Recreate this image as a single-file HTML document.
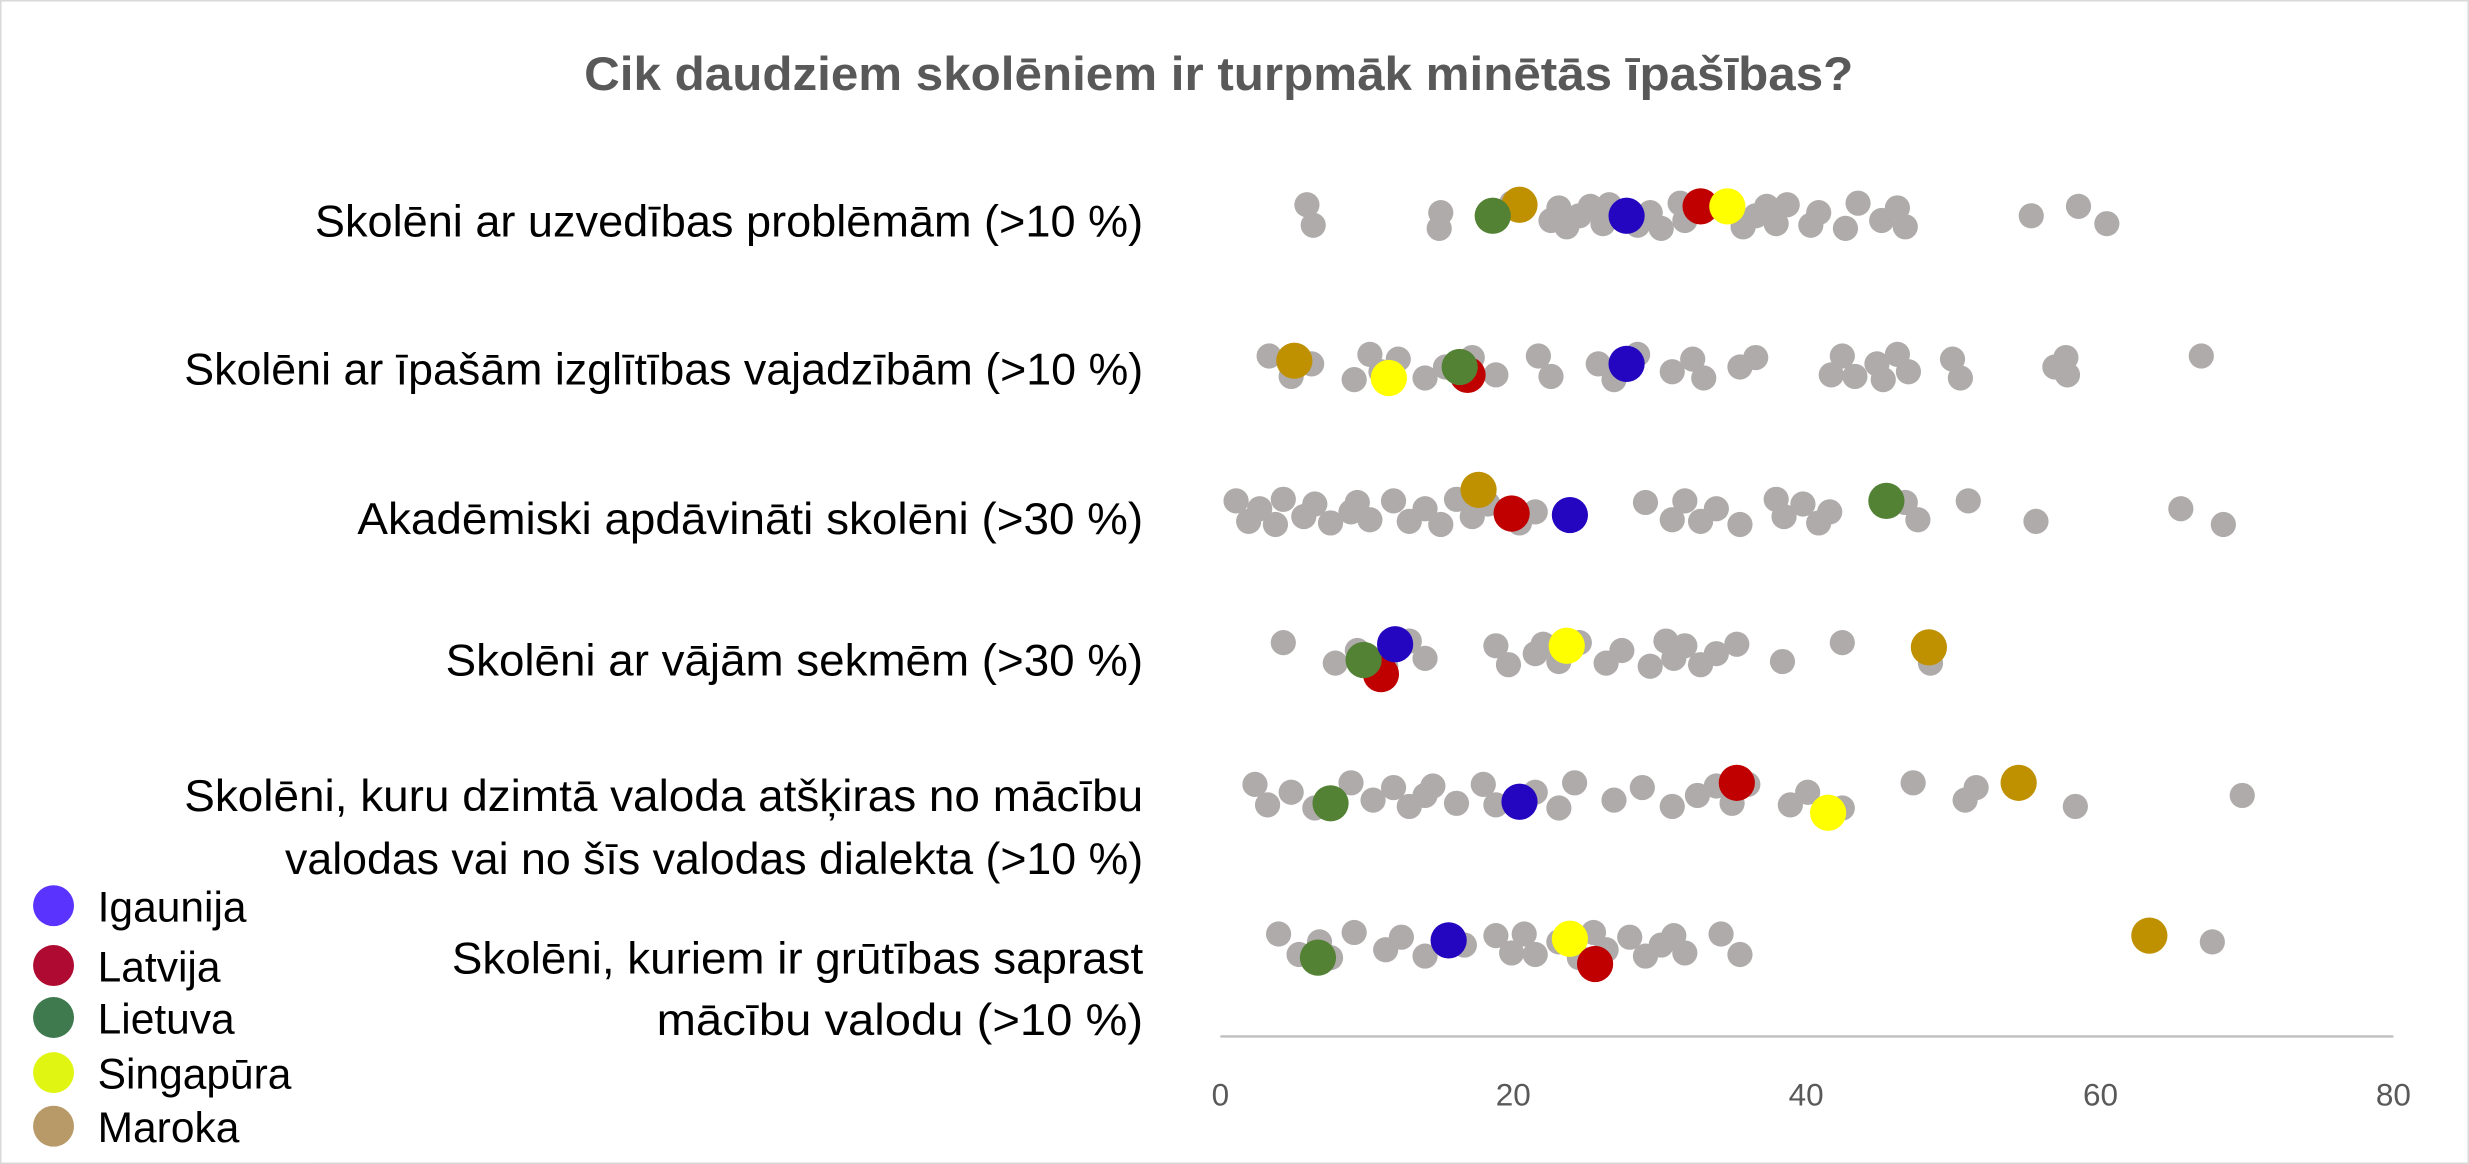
<!DOCTYPE html>
<html><head><meta charset="utf-8"><style>
html,body{margin:0;padding:0;background:#fff;}
svg{display:block;}
text{font-family:"Liberation Sans",sans-serif;}
</style></head><body>
<svg id="s" width="2469" height="1164" viewBox="0 0 1568 739" preserveAspectRatio="none" xmlns="http://www.w3.org/2000/svg">
<rect x="0.5" y="0.5" width="1567" height="738" fill="#fff" stroke="#d9d9d9" stroke-width="1"/>
<text x="774" y="57" text-anchor="middle" font-size="30" font-weight="bold" fill="#595959" textLength="806" lengthAdjust="spacingAndGlyphs">Cik daudziem skolēniem ir turpmāk minētās īpašības?</text>
<g font-size="28" fill="#000" text-anchor="end" lengthAdjust="spacingAndGlyphs">
<text x="726" y="150" textLength="526" lengthAdjust="spacingAndGlyphs">Skolēni ar uzvedības problēmām (&gt;10 %)</text>
<text x="726" y="244" textLength="609" lengthAdjust="spacingAndGlyphs">Skolēni ar īpašām izglītības vajadzībām (&gt;10 %)</text>
<text x="726" y="339" textLength="499" lengthAdjust="spacingAndGlyphs">Akadēmiski apdāvināti skolēni (&gt;30 %)</text>
<text x="726" y="429" textLength="443" lengthAdjust="spacingAndGlyphs">Skolēni ar vājām sekmēm (&gt;30 %)</text>
<text x="726" y="515" textLength="609" lengthAdjust="spacingAndGlyphs">Skolēni, kuru dzimtā valoda atšķiras no mācību</text>
<text x="726" y="555" textLength="545" lengthAdjust="spacingAndGlyphs">valodas vai no šīs valodas dialekta (&gt;10 %)</text>
<text x="726" y="618" textLength="439" lengthAdjust="spacingAndGlyphs">Skolēni, kuriem ir grūtības saprast</text>
<text x="726" y="657" textLength="309" lengthAdjust="spacingAndGlyphs">mācību valodu (&gt;10 %)</text>
</g>
<line x1="775" y1="658" x2="1520" y2="658" stroke="#bfbfbf" stroke-width="1.5"/>
<g font-size="20" fill="#595959" text-anchor="middle">
<text x="775" y="702">0</text><text x="961" y="702">20</text><text x="1147" y="702">40</text><text x="1334" y="702">60</text><text x="1520" y="702">80</text>
</g>
<g id="dots"></g>
<rect x="1" y="557" width="200" height="181" fill="#fff"/>
<g font-size="27" fill="#000">
<circle cx="34" cy="575" r="13" fill="#5B33FF"/><text x="62" y="585">Igaunija</text>
<circle cx="34" cy="613" r="13" fill="#AE0A32"/><text x="62" y="623">Latvija</text>
<circle cx="34" cy="646" r="13" fill="#3E7A4E"/><text x="62" y="656">Lietuva</text>
<circle cx="34" cy="681" r="13" fill="#E0F512"/><text x="62" y="691">Singapūra</text>
<circle cx="34" cy="715" r="13" fill="#B89A68"/><text x="62" y="725">Maroka</text>
</g>
</svg>
<script>
var rows=[
[137,[830,834,915,914,960,985,990,995,1003,1010,1018,1022,1040,1048,1055,1067,1070,1085,1107,1115,1122,1128,1135,1150,1155,1172,1180,1195,1205,1210,1290,1320,1338],
 [[965,130,'#BF9000'],[948,137,'#548235'],[1033,137,'#2406C0'],[1080,131,'#C00000'],[1097,131,'#FFFF00']]],
[233,[806,820,833,860,870,877,888,905,918,935,950,977,985,1015,1025,1040,1062,1075,1082,1105,1115,1163,1170,1178,1192,1196,1205,1212,1240,1245,1305,1312,1313,1398],
 [[822,229,'#BF9000'],[932,238,'#C00000'],[927,233,'#548235'],[882,240,'#FFFF00'],[1033,231,'#2406C0']]],
[325,[785,793,800,810,815,828,835,845,858,862,870,885,895,905,915,925,935,945,965,975,1045,1062,1070,1080,1090,1105,1128,1133,1145,1155,1162,1210,1218,1250,1293,1385,1412],
 [[939,311,'#BF9000'],[960,326,'#C00000'],[997,327,'#2406C0'],[1198,318,'#548235']]],
[415,[815,848,862,880,895,905,950,958,975,980,990,1003,1020,1030,1048,1058,1063,1070,1080,1090,1103,1132,1170,1226],
 [[877,428,'#C00000'],[866,419,'#548235'],[886,409,'#2406C0'],[995,410,'#FFFF00'],[1225,411,'#BF9000']]],
[505,[797,805,820,835,858,872,885,895,905,910,925,942,950,975,990,1000,1025,1043,1062,1078,1090,1100,1110,1137,1148,1170,1215,1248,1255,1318,1424],
 [[845,510,'#548235'],[965,509,'#2406C0'],[1103,497,'#C00000'],[1161,516,'#FFFF00'],[1282,497,'#BF9000']]],
[600,[812,825,838,845,860,880,890,905,930,950,960,968,975,990,1003,1012,1020,1035,1045,1055,1063,1070,1093,1105,1405],
 [[837,608,'#548235'],[920,597,'#2406C0'],[997,596,'#FFFF00'],[1013,612,'#C00000'],[1365,594,'#BF9000']]]
];
var g=document.getElementById('dots'),h='';
var offs=[-7,6,-2,8,-8,3,-5,7,0,-6,5];
rows.forEach(function(r){
 r[1].forEach(function(x,i){h+='<circle cx="'+x+'" cy="'+(r[0]+offs[i%offs.length])+'" r="8" fill="#AFABAB"/>';});
 r[2].forEach(function(c){h+='<circle cx="'+c[0]+'" cy="'+c[1]+'" r="11.5" fill="'+c[2]+'"/>';});
});
g.innerHTML=h;
</script>
</body></html>
